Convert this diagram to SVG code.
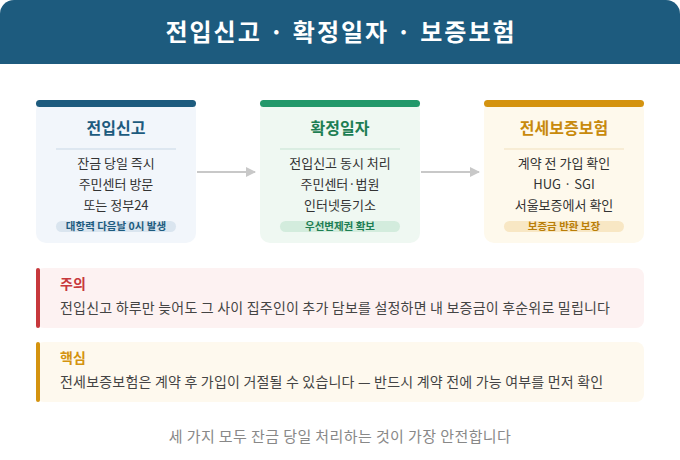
<svg xmlns="http://www.w3.org/2000/svg" width="680" height="460" viewBox="0 0 680 460">
<style>
text{font-family:"Noto Sans CJK KR","Noto Sans",sans-serif}
.title{font-size:24px;font-weight:700;fill:#ffffff;letter-spacing:2px}
.ct{font-size:16px;font-weight:700;text-anchor:middle}
.body{font-size:13px;fill:#333;text-anchor:middle}
.pill{font-size:10.5px;font-weight:700;text-anchor:middle}
.nt{font-size:14px;font-weight:700}
.nb{font-size:14px;fill:#444;letter-spacing:0.2px}
.foot{font-size:15px;fill:#888;text-anchor:middle;letter-spacing:0.4px}
.conn{stroke:#c8c8c8;stroke-width:2;fill:none}
</style>
<defs>
<marker id="ah" viewBox="0 0 10 10" refX="9" refY="5" markerWidth="5" markerHeight="5" orient="auto" markerUnits="strokeWidth">
<path d="M0,0 L10,5 L0,10 z" fill="#c8c8c8"/>
</marker>
</defs>
<rect x="0" y="0" width="680" height="460" rx="14" fill="#ffffff"/>
<g id="header">
<path d="M0,14 A14,14 0 0 1 14,0 H666 A14,14 0 0 1 680,14 V64 H0 Z" fill="#1d5b7e"/>
<text x="341" y="41" class="title" text-anchor="middle">전입신고 · 확정일자 · 보증보험</text>
</g>
<g id="connectors">
<line x1="197" y1="172" x2="255" y2="172" class="conn" marker-end="url(#ah)"/>
<line x1="421" y1="172" x2="479" y2="172" class="conn" marker-end="url(#ah)"/>
</g>
<g id="card1">
<rect x="36" y="100" width="160" height="143" rx="10" fill="#f2f6fb"/>
<rect x="36" y="100" width="160" height="7" rx="3.5" fill="#1d5b7e"/>
<text x="116" y="134" class="ct" fill="#1d5b7e">전입신고</text>
<line x1="56" y1="149" x2="176" y2="149" stroke="#c9d8e6" stroke-width="1"/>
<text x="116" y="168" class="body">잔금 당일 즉시</text>
<text x="116" y="189" class="body">주민센터 방문</text>
<text x="116" y="210" class="body">또는 정부24</text>
<rect x="56" y="221" width="120" height="11" rx="5.5" fill="#dae5ef"/>
<text x="116" y="230" class="pill" fill="#1d5b7e">대항력 다음날 0시 발생</text>
</g>
<g id="card2">
<rect x="260" y="100" width="160" height="143" rx="10" fill="#eff8f2"/>
<rect x="260" y="100" width="160" height="7" rx="3.5" fill="#22986a"/>
<text x="340" y="134" class="ct" fill="#1d7e53">확정일자</text>
<line x1="280" y1="149" x2="400" y2="149" stroke="#c5e3d2" stroke-width="1"/>
<text x="340" y="168" class="body">전입신고 동시 처리</text>
<text x="340" y="189" class="body">주민센터·법원</text>
<text x="340" y="210" class="body">인터넷등기소</text>
<rect x="280" y="221" width="120" height="11" rx="5.5" fill="#d3ecdd"/>
<text x="340" y="230" class="pill" fill="#1d7e53">우선변제권 확보</text>
</g>
<g id="card3">
<rect x="484" y="100" width="160" height="143" rx="10" fill="#fef9ec"/>
<rect x="484" y="100" width="160" height="7" rx="3.5" fill="#d4930f"/>
<text x="564" y="134" class="ct" fill="#c88a0c">전세보증보험</text>
<line x1="504" y1="149" x2="624" y2="149" stroke="#f1e0bd" stroke-width="1"/>
<text x="564" y="168" class="body">계약 전 가입 확인</text>
<text x="564" y="189" class="body">HUG · SGI</text>
<text x="564" y="210" class="body">서울보증에서 확인</text>
<rect x="504" y="221" width="120" height="11" rx="5.5" fill="#f8e7c4"/>
<text x="564" y="230" class="pill" fill="#b97e08">보증금 반환 보장</text>
</g>
<g id="warning">
<rect x="36" y="268" width="608" height="60" rx="8" fill="#fdf2f2"/>
<rect x="36" y="268" width="4" height="60" rx="2" fill="#c7383c"/>
<text x="60" y="289" class="nt" fill="#c7383c">주의</text>
<text x="60" y="313" class="nb">전입신고 하루만 늦어도 그 사이 집주인이 추가 담보를 설정하면 내 보증금이 후순위로 밀립니다</text>
</g>
<g id="key">
<rect x="36" y="342" width="608" height="60" rx="8" fill="#fef9ee"/>
<rect x="36" y="342" width="4" height="60" rx="2" fill="#d4930f"/>
<text x="60" y="363" class="nt" fill="#d4930f">핵심</text>
<text x="60" y="387" class="nb">전세보증보험은 계약 후 가입이 거절될 수 있습니다 — 반드시 계약 전에 가능 여부를 먼저 확인</text>
</g>
<text x="340" y="442" class="foot">세 가지 모두 잔금 당일 처리하는 것이 가장 안전합니다</text>
</svg>
